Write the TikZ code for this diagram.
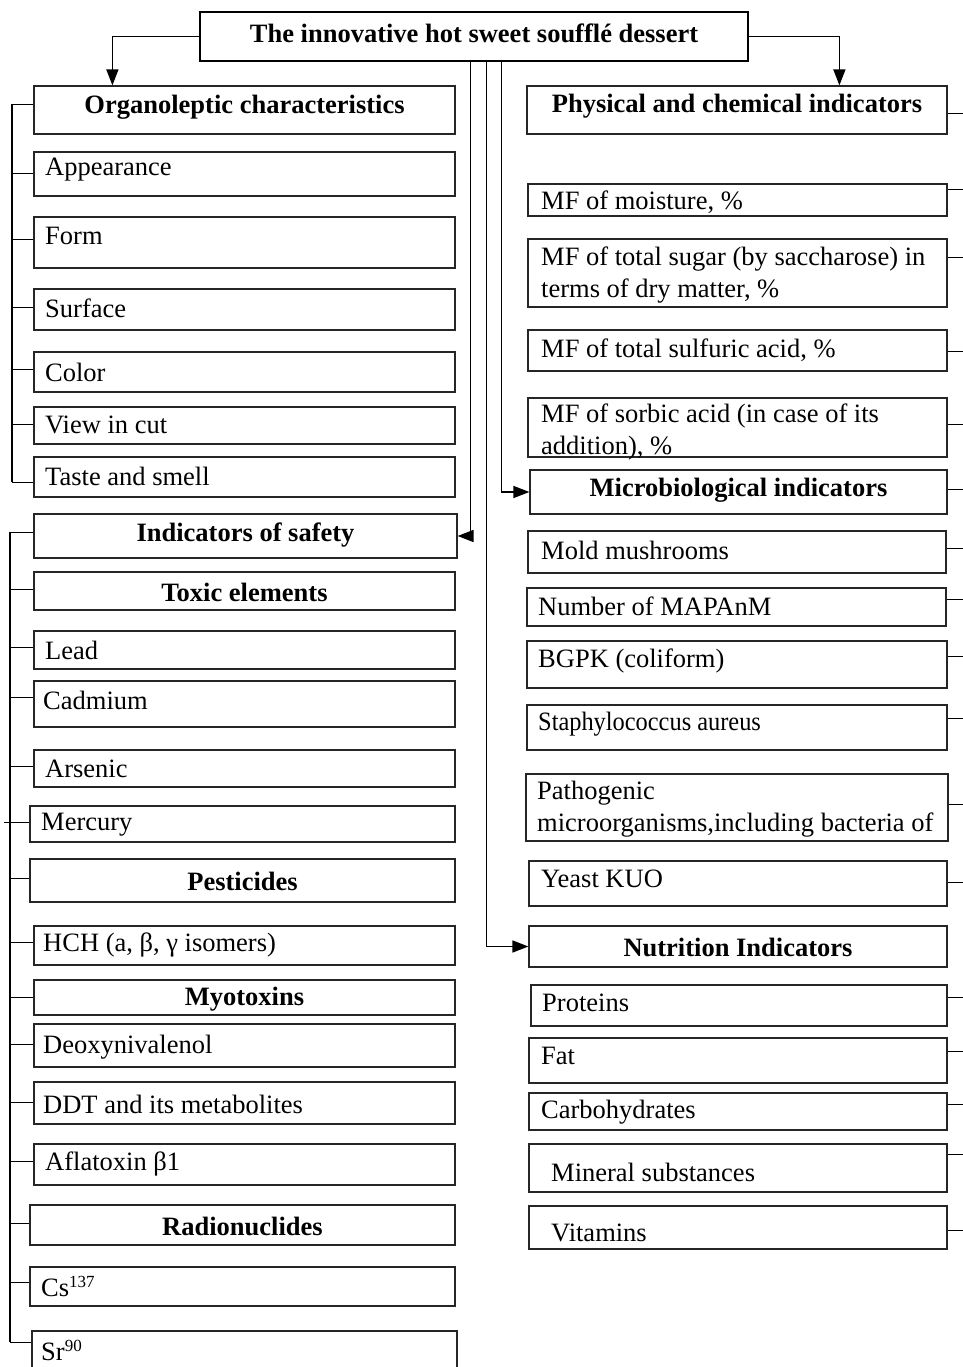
\documentclass[tikz,border=0pt]{standalone}
\usepackage{fontspec}
\setmainfont{Liberation Serif}
\usepackage{graphicx}
\usetikzlibrary{arrows.meta,calc,fit}
\newcommand\bx[8]{\node[bx,fit={(#2,#3)(#4,#5)}] (#1) {};
  \node[tx,anchor=west] (#1t) at (#6,#7) {#8};}
\newcommand\bb[7]{\node[bx,fit={(#2,#3)(#4,#5)}] (#1) {};
  \node[tx,font=\fsz\bfseries] (#1t) at ({(#2+#4)/2},#6) {#7};}
\newcommand\fsz{\fontsize{26.5}{32}\selectfont}
\newcommand\tkL[3]{\coordinate (#1-k) at ($(#1.north west)+(0,#3)$);
  \draw[conn] (#2 |- #1-k) -- (#1-k);}
\newcommand\tkR[2]{\coordinate (#1-r) at ($(#1.north east)+(0,#2)$);
  \draw[conn] (#1-r) -- (edgeR |- #1-r);}
\begin{document}
\begin{tikzpicture}[x=1pt,y=-1pt,
  bx/.style={draw=black!85,line width=1.2pt,inner sep=0pt},
  tx/.style={inner sep=0pt,font=\fsz,align=left,yshift=-2pt},
  conn/.style={line width=1.5pt},
  arr/.style={line width=1.5pt,-{Triangle[length=16pt,width=12pt]}}]
\useasboundingbox (0,0) rectangle (963,1367);
\clip (0,0) rectangle (963,1367);
\coordinate (busA) at (12,0);
\coordinate (busB) at (10,0);
\coordinate (edgeR) at (966,0);
% title
\node[draw,line width=2.8pt,inner sep=0pt,fit={(200,12)(748,61)}] (title) {};
\node[tx,font=\fsz\bfseries] (titlet) at (474,31) {The innovative hot sweet soufflé dessert};
% organoleptic group
\bb{org}{34}{86}{455}{134}{105}{Organoleptic characteristics}
\bx{app}{34}{152}{455}{196}{45}{168}{Appearance}
\bx{form}{34}{217}{455}{268}{45}{234}{Form}
\bx{surf}{34}{289}{455}{330}{45}{306}{Surface}
\bx{col}{34}{352}{455}{392}{45}{370}{Color}
\bx{view}{34}{407}{455}{444}{45}{423}{View in cut}
\bx{taste}{34}{457}{455}{497}{45}{474}{Taste and smell}
\tkL{org}{busA}{19}
\tkL{app}{busA}{22}
\tkL{form}{busA}{23}
\tkL{surf}{busA}{19}
\tkL{col}{busA}{18}
\tkL{view}{busA}{18}
\tkL{taste}{busA}{26}
\draw[conn] (busA |- org-k) -- (busA |- taste-k);
% safety group
\bb{safe}{34}{514}{457}{558}{533}{Indicators of safety}
\bb{tox}{34}{572}{455}{610}{590}{Toxic elements}
\bx{lead}{34}{631}{455}{669}{45}{648}{Lead}
\bx{cad}{34}{681}{455}{727}{43}{698}{Cadmium}
\bx{ars}{34}{750}{455}{787}{45}{767}{Arsenic}
\bx{merc}{30}{806}{455}{842}{41}{823}{Mercury}
\bb{pest}{30}{859}{455}{902}{879}{Pesticides}
\bx{hch}{34}{926}{455}{965}{43}{943}{HCH (a, β, γ isomers)}
\bb{myo}{34}{980}{455}{1015}{997}{Myotoxins}
\bx{deo}{34}{1024}{455}{1067}{43}{1045}{Deoxynivalenol}
\bx{ddt}{34}{1082}{455}{1124}{43}{1102}{DDT and its metabolites}
\bx{afla}{34}{1144}{455}{1185}{45}{1162}{Aflatoxin β1}
\bb{rad}{30}{1205}{455}{1245}{1224}{Radionuclides}
\bx{cs}{30}{1267}{455}{1306}{41}{1284}{Cs\textsuperscript{\fontsize{17}{17}\selectfont 137}}
\bx{sr}{32}{1331}{457}{1395}{41}{1348}{Sr\textsuperscript{\fontsize{17}{17}\selectfont 90}}
\tkL{safe}{busB}{19}
\tkL{tox}{busB}{18}
\tkL{lead}{busB}{17}
\tkL{cad}{busB}{17}
\tkL{ars}{busB}{17}
\tkL{merc}{busB}{17}
\tkL{pest}{busB}{20}
\tkL{hch}{busB}{17}
\tkL{myo}{busB}{18}
\tkL{deo}{busB}{21}
\tkL{ddt}{busB}{21}
\tkL{afla}{busB}{18}
\tkL{rad}{busB}{19}
\tkL{cs}{busB}{16}
\tkL{sr}{busB}{12}
\draw[conn] ($(busB |- merc-k)+(-6,0)$) -- (busB |- merc-k);
\draw[line width=2pt] (busB |- safe-k) -- (busB |- sr-k);
% physical and chemical
\bb{phys}{527}{86}{947}{134}{104}{Physical and chemical indicators}
\bx{moist}{528}{184}{947}{216}{541}{200}{MF of moisture, \%}
\bx{sugar}{528}{239}{947}{307}{541}{273}{MF of total sugar (by saccharose) in\\terms of dry matter, \%}
\bx{sulf}{528}{330}{947}{371}{541}{348}{MF of total sulfuric acid, \%}
\bx{sorb}{528}{398}{947}{457}{541}{430}{MF of sorbic acid (in case of its\\addition), \%}
\tkR{phys}{28}
\tkR{moist}{6}
\tkR{sugar}{19}
\tkR{sulf}{22}
\tkR{sorb}{27}
% microbiological
\bb{micro}{530}{470}{947}{514}{488}{Microbiological indicators}
\bx{mold}{528}{531}{946}{573}{541}{548}{Mold mushrooms}
\bx{num}{527}{588}{946}{626}{538}{604}{Number of MAPAnM}
\bx{bgpk}{527}{641}{947}{688}{538}{659}{BGPK (coliform)}
\bx{staph}{527}{705}{947}{750}{538}{722}{\scalebox{0.92}[1]{Staphylococcus aureus}}
\bx{path}{526}{774}{948}{841}{537}{807}{Pathogenic\\microorganisms,including bacteria of}
\bx{yeast}{529}{861}{947}{906}{541}{877}{Yeast KUO}
\tkR{micro}{20}
\tkR{mold}{18}
\tkR{num}{12}
\tkR{bgpk}{16}
\tkR{staph}{14}
\tkR{path}{31}
\tkR{yeast}{22}
% nutrition
\bb{nutr}{529}{926}{947}{967}{945}{Nutrition Indicators}
\bx{prot}{531}{985}{947}{1026}{542}{1001}{Proteins}
\bx{fat}{529}{1038}{947}{1083}{541}{1054}{Fat}
\bx{carb}{529}{1093}{947}{1130}{541}{1110}{Carbohydrates}
\bx{mins}{529}{1144}{947}{1192}{551}{1170}{Mineral substances}
\bx{vit}{529}{1206}{947}{1249}{551}{1231}{Vitamins}
\tkR{prot}{13}
\tkR{fat}{14}
\tkR{carb}{12}
\tkR{mins}{11}
\tkR{vit}{25}
% main connectors
\draw[arr] (title.west) -| ($(org.north west)+(79,0)$);
\draw[arr] (title.east) -| ($(phys.north west)+(313,0)$);
\coordinate (t1) at ($(title.south west)+(272,0)$);
\coordinate (t2) at ($(title.south west)+(303,0)$);
\coordinate (t3) at ($(title.south west)+(288,0)$);
\draw[arr] (t1) |- (safe.east);
\draw[arr] (t2) |- (micro.west);
\draw[arr] (t3) |- (nutr.west);
\end{tikzpicture}
\end{document}
